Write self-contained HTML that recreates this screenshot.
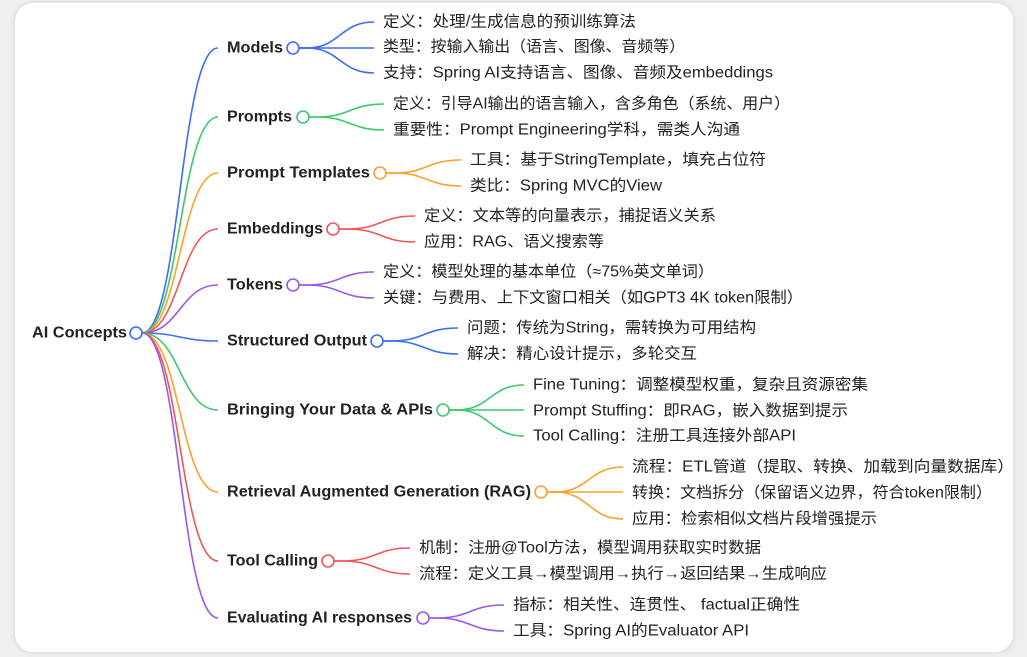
<!DOCTYPE html>
<html><head><meta charset="utf-8"><style>
html,body{margin:0;padding:0;background:#efefef;width:1027px;height:657px;overflow:hidden}
.card{position:absolute;left:15px;top:3px;width:998px;height:649px;background:#fff;border-radius:18px;box-shadow:0 0 6px rgba(0,0,0,0.12)}
svg{position:absolute;left:0;top:0}
text{font-family:"Liberation Sans","Noto Sans CJK SC",sans-serif;dominant-baseline:central;fill:#222}
.b{font-size:15.5px;font-weight:bold}
.l{font-size:15.5px}
path{fill:none;stroke-width:1.6}
circle{fill:#fff;stroke-width:1.6}
</style></head><body>
<div class="card"></div>
<svg width="1027" height="657" viewBox="0 0 1027 657">
<path stroke="#3b6ef5" d="M142,333 C180,333 180,48 218,48"/>
<path stroke="#3ec96a" d="M142,333 C180,333 180,117 218,117"/>
<path stroke="#ffa02a" d="M142,333 C180,333 180,173 218,173"/>
<path stroke="#f25555" d="M142,333 C180,333 180,229 218,229"/>
<path stroke="#9b59e6" d="M142,333 C180,333 180,285 218,285"/>
<path stroke="#3b6ef5" d="M142,333 C180,333 180,341 218,341"/>
<path stroke="#3ec96a" d="M142,333 C180,333 180,410 218,410"/>
<path stroke="#ffa02a" d="M142,333 C180,333 180,492 218,492"/>
<path stroke="#f25555" d="M142,333 C180,333 180,561 218,561"/>
<path stroke="#9b59e6" d="M142,333 C180,333 180,618 218,618"/>
<circle cx="136" cy="333" r="6" stroke="#3b6ef5"/>
<text class="b" x="32" y="333" textLength="95" lengthAdjust="spacingAndGlyphs">AI Concepts</text>

<g stroke="#3b6ef5">
<path d="M299,48 H307 C340,48 340,22 374,22"/><path d="M299,48 H374"/><path d="M299,48 H307 C340,48 340,73 374,73"/>
<circle cx="293" cy="48" r="6"/></g>
<text class="b" x="227" y="48" textLength="56" lengthAdjust="spacingAndGlyphs">Models</text>
<text class="l" x="383" y="22" textLength="253" lengthAdjust="spacingAndGlyphs">定义：处理/生成信息的预训练算法</text>
<text class="l" x="383" y="47" textLength="302" lengthAdjust="spacingAndGlyphs">类型：按输入输出（语言、图像、音频等）</text>
<text class="l" x="383" y="73" textLength="390" lengthAdjust="spacingAndGlyphs">支持：Spring AI支持语言、图像、音频及embeddings</text>

<g stroke="#3ec96a">
<path d="M309,117 H317 C350,117 350,104 384,104"/><path d="M309,117 H317 C350,117 350,130 384,130"/>
<circle cx="303" cy="117" r="6"/></g>
<text class="b" x="227" y="117" textLength="65" lengthAdjust="spacingAndGlyphs">Prompts</text>
<text class="l" x="393" y="104" textLength="397" lengthAdjust="spacingAndGlyphs">定义：引导AI输出的语言输入，含多角色（系统、用户）</text>
<text class="l" x="393" y="130" textLength="347" lengthAdjust="spacingAndGlyphs">重要性：Prompt Engineering学科，需类人沟通</text>

<g stroke="#ffa02a">
<path d="M386,173 H394 C427,173 427,160 461,160"/><path d="M386,173 H394 C427,173 427,186 461,186"/>
<circle cx="380" cy="173" r="6"/></g>
<text class="b" x="227" y="173" textLength="143" lengthAdjust="spacingAndGlyphs">Prompt Templates</text>
<text class="l" x="470" y="160" textLength="296" lengthAdjust="spacingAndGlyphs">工具：基于StringTemplate，填充占位符</text>
<text class="l" x="470" y="186" textLength="192" lengthAdjust="spacingAndGlyphs">类比：Spring MVC的View</text>

<g stroke="#f25555">
<path d="M339,229 H347 C381,229 381,216 415,216"/><path d="M339,229 H347 C381,229 381,242 415,242"/>
<circle cx="333" cy="229" r="6"/></g>
<text class="b" x="227" y="229" textLength="96" lengthAdjust="spacingAndGlyphs">Embeddings</text>
<text class="l" x="424" y="216" textLength="292" lengthAdjust="spacingAndGlyphs">定义：文本等的向量表示，捕捉语义关系</text>
<text class="l" x="424" y="242" textLength="180" lengthAdjust="spacingAndGlyphs">应用：RAG、语义搜索等</text>

<g stroke="#9b59e6">
<path d="M299,285 H307 C340,285 340,272 374,272"/><path d="M299,285 H307 C340,285 340,298 374,298"/>
<circle cx="293" cy="285" r="6"/></g>
<text class="b" x="227" y="285" textLength="56" lengthAdjust="spacingAndGlyphs">Tokens</text>
<text class="l" x="383" y="272" textLength="331" lengthAdjust="spacingAndGlyphs">定义：模型处理的基本单位（≈75%英文单词）</text>
<text class="l" x="383" y="298" textLength="420" lengthAdjust="spacingAndGlyphs">关键：与费用、上下文窗口相关（如GPT3 4K token限制）</text>

<g stroke="#3b6ef5">
<path d="M383,341 H391 C424,341 424,328 458,328"/><path d="M383,341 H391 C424,341 424,354 458,354"/>
<circle cx="377" cy="341" r="6"/></g>
<text class="b" x="227" y="341" textLength="140" lengthAdjust="spacingAndGlyphs">Structured Output</text>
<text class="l" x="467" y="328" textLength="289" lengthAdjust="spacingAndGlyphs">问题：传统为String，需转换为可用结构</text>
<text class="l" x="467" y="354" textLength="230" lengthAdjust="spacingAndGlyphs">解决：精心设计提示，多轮交互</text>

<g stroke="#3ec96a">
<path d="M449,410 H457 C490,410 490,385 524,385"/><path d="M449,410 H524"/><path d="M449,410 H457 C490,410 490,436 524,436"/>
<circle cx="443" cy="410" r="6"/></g>
<text class="b" x="227" y="410" textLength="206" lengthAdjust="spacingAndGlyphs">Bringing Your Data &amp; APIs</text>
<text class="l" x="533" y="385" textLength="335" lengthAdjust="spacingAndGlyphs">Fine Tuning：调整模型权重，复杂且资源密集</text>
<text class="l" x="533" y="411" textLength="315" lengthAdjust="spacingAndGlyphs">Prompt Stuffing：即RAG，嵌入数据到提示</text>
<text class="l" x="533" y="436" textLength="263" lengthAdjust="spacingAndGlyphs">Tool Calling：注册工具连接外部API</text>

<g stroke="#ffa02a">
<path d="M547,492 H555 C589,492 589,467 623,467"/><path d="M547,492 H623"/><path d="M547,492 H555 C589,492 589,519 623,519"/>
<circle cx="541" cy="492" r="6"/></g>
<text class="b" x="227" y="492" textLength="304" lengthAdjust="spacingAndGlyphs">Retrieval Augmented Generation (RAG)</text>
<text class="l" x="632" y="467" textLength="382" lengthAdjust="spacingAndGlyphs">流程：ETL管道（提取、转换、加载到向量数据库）</text>
<text class="l" x="632" y="493" textLength="360" lengthAdjust="spacingAndGlyphs">转换：文档拆分（保留语义边界，符合token限制）</text>
<text class="l" x="632" y="519" textLength="245" lengthAdjust="spacingAndGlyphs">应用：检索相似文档片段增强提示</text>

<g stroke="#f25555">
<path d="M334,561 H342 C376,561 376,548 410,548"/><path d="M334,561 H342 C376,561 376,574 410,574"/>
<circle cx="328" cy="561" r="6"/></g>
<text class="b" x="227" y="561" textLength="91" lengthAdjust="spacingAndGlyphs">Tool Calling</text>
<text class="l" x="419" y="548" textLength="342" lengthAdjust="spacingAndGlyphs">机制：注册@Tool方法，模型调用获取实时数据</text>
<text class="l" x="419" y="574" textLength="408" lengthAdjust="spacingAndGlyphs">流程：定义工具→模型调用→执行→返回结果→生成响应</text>

<g stroke="#9b59e6">
<path d="M429,618 H437 C470,618 470,605 504,605"/><path d="M429,618 H437 C470,618 470,631 504,631"/>
<circle cx="423" cy="618" r="6"/></g>
<text class="b" x="227" y="618" textLength="185" lengthAdjust="spacingAndGlyphs">Evaluating AI responses</text>
<text class="l" x="513" y="605" textLength="287" lengthAdjust="spacingAndGlyphs">指标：相关性、连贯性、 factual正确性</text>
<text class="l" x="513" y="631" textLength="236" lengthAdjust="spacingAndGlyphs">工具：Spring AI的Evaluator API</text>
</svg>
</body></html>
